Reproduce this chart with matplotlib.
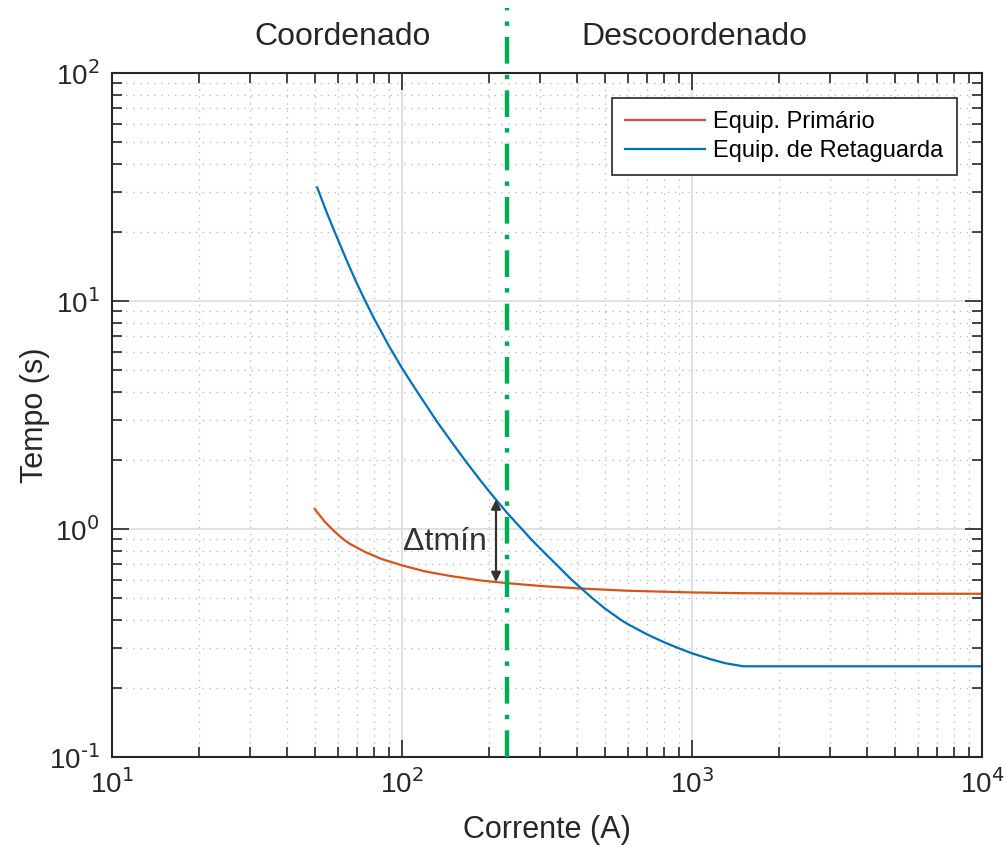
import numpy as np
import matplotlib
matplotlib.use("Agg")
from matplotlib import pyplot as plt
from matplotlib.lines import Line2D
from matplotlib.ticker import FuncFormatter

plt.rcParams['font.family'] = ['Liberation Sans', 'DejaVu Sans']
plt.rcParams['mathtext.default'] = 'regular'
plt.rcParams['axes.unicode_minus'] = False

# curva do equipamento primario (corrente A, tempo s)
i_prim = [50, 54, 58, 62, 66, 75, 85, 100, 120, 146, 186, 230, 300, 417, 600, 1000, 1500, 2500, 10000]
t_prim = [1.224, 1.082, 0.986, 0.913, 0.862, 0.791, 0.739, 0.693, 0.652, 0.623, 0.595, 0.579,
          0.5625, 0.548, 0.536, 0.527, 0.523, 0.521, 0.52]

# curva do equipamento de retaguarda
i_ret = [51, 55, 58.7, 65, 70, 73.9, 80, 90, 100, 113, 132, 150, 167, 186, 200, 218, 230,
         259, 280, 300, 340, 384, 417, 451, 500, 571, 600, 700, 800, 900, 1000, 1153, 1300,
         1500, 10000]
t_ret = [31.5, 24.5, 20.0, 14.7, 11.9, 10.3, 8.41, 6.38, 5.08, 3.99, 2.96, 2.36, 1.96, 1.64,
         1.46, 1.28, 1.18, 1.0, 0.897, 0.82, 0.70, 0.60, 0.547, 0.50, 0.449, 0.398, 0.383,
         0.345, 0.319, 0.30, 0.285, 0.269, 0.258, 0.25, 0.25]

i_limite = 230   # fronteira coordenado / descoordenado
i_delta = 211    # posicao da seta de delta t

c_prim = '#D95319'
c_ret = '#0072BD'
c_txt = '#262626'


def pot10(v, pos):
    e = int(round(np.log10(v)))
    return r'$\mathdefault{10^{\text{%d}}}$' % e


fig = plt.figure(figsize=(10.06, 8.5), dpi=100)
ax = fig.add_axes([0.1113, 0.1094, 0.8648, 0.8047])

ax.loglog(i_prim, t_prim, color=c_prim, lw=1.6)
ax.loglog(i_ret, t_ret, color=c_ret, lw=1.6)

ax.set_xlim(10, 1e4)
ax.set_ylim(0.1, 100)
ax.xaxis.set_major_formatter(FuncFormatter(pot10))
ax.yaxis.set_major_formatter(FuncFormatter(pot10))

ax.grid(True, which='major', color='#dcdcdc', lw=1.2, ls='-')
ax.grid(True, which='minor', color='#bdbdbd', lw=1.0, ls=(0, (1, 4)))
ax.set_axisbelow(True)

ax.tick_params(which='both', direction='in', top=True, right=True, colors=c_txt,
               labelsize=20, width=1.2)
ax.tick_params(which='major', length=12, pad=9)
ax.tick_params(which='minor', length=7)
for s in ax.spines.values():
    s.set_color(c_txt)
    s.set_linewidth(1.5)

ax.set_xlabel('Corrente (A)', fontsize=22, color=c_txt, labelpad=12)
ax.set_ylabel('Tempo (s)', fontsize=22, color=c_txt, labelpad=-1)

# linha vertical tracejada que sai do grafico
ax.axvline(i_limite, ymin=0, ymax=1.095, color='#00AD55', lw=3.2,
           ls=(0, (6, 2.5, 1, 2.5)), clip_on=False, zorder=5)

ax.text(0.265, 1.053, 'Coordenado', transform=ax.transAxes, ha='center', va='center',
        fontsize=23, color=c_txt)
ax.text(0.67, 1.053, 'Descoordenado', transform=ax.transAxes, ha='center', va='center',
        fontsize=23, color=c_txt)

# seta dupla delta t
y_baixo = np.interp(np.log10(i_delta), np.log10(i_prim), t_prim)
y_cima = np.interp(np.log10(i_delta), np.log10(i_ret), t_ret)
ax.annotate('', xy=(i_delta, y_cima), xytext=(i_delta, y_baixo),
            arrowprops=dict(arrowstyle='<|-|>', color='#333333', lw=1.6,
                            mutation_scale=14, shrinkA=0, shrinkB=0))
ax.text(i_delta * 0.93, 0.88, 'Δtmín', ha='right', va='center', fontsize=23, color='#333333')

handles = [Line2D([], [], color='#E8474C', lw=1.6), Line2D([], [], color=c_ret, lw=1.6)]
leg = ax.legend(handles, ['Equip. Primário', 'Equip. de Retaguarda'],
                loc='upper right', bbox_to_anchor=(0.971, 0.963), borderaxespad=0,
                fancybox=False, framealpha=1, edgecolor='#262626',
                prop={'size': 17}, handlelength=3.4, handletextpad=0.35,
                labelspacing=0.3, borderpad=0.55)
leg.get_frame().set_linewidth(1.2)

fig.savefig('out.png', dpi=100)
